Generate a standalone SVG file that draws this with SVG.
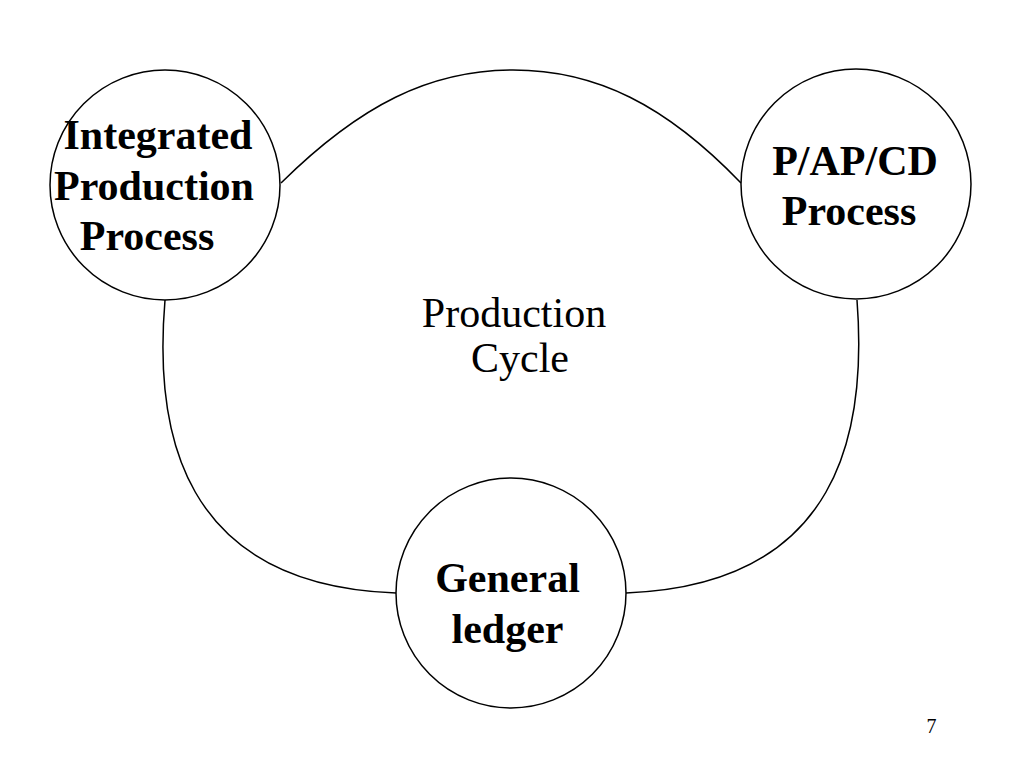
<svg xmlns="http://www.w3.org/2000/svg" width="1024" height="768" viewBox="0 0 1024 768">
<style>
.node{fill:#fff;stroke:#000;stroke-width:1.5}
.conn{fill:none;stroke:#000;stroke-width:1.5}
.lbl{font-family:"Liberation Serif","Times New Roman",serif;font-weight:bold;font-size:42px;fill:#000;text-anchor:middle}
.cyc{font-family:"Liberation Serif","Times New Roman",serif;font-size:42px;fill:#000;text-anchor:middle}
.pg{font-family:"Liberation Serif","Times New Roman",serif;font-size:20px;fill:#000;text-anchor:middle}
</style>
<rect width="1024" height="768" fill="#fff"/>
<g id="connectors">
<path class="conn" d="M281,183 C360,105 430,70 513,70 C596,70 666,105 741,183"/>
<path class="conn" d="M165,300 C154,430 180,585 396,593"/>
<path class="conn" d="M857,300 C867,430 841,585 626,593"/>
</g>
<g id="integrated">
<circle class="node" cx="165" cy="185" r="115"/>
<text class="lbl" x="158" y="149">Integrated</text>
<text class="lbl" x="154" y="200">Production</text>
<text class="lbl" x="147" y="250">Process</text>
</g>
<g id="papcd">
<circle class="node" cx="856" cy="184" r="115"/>
<text class="lbl" x="855" y="175">P/AP/CD</text>
<text class="lbl" x="849" y="225">Process</text>
</g>
<g id="ledger">
<circle class="node" cx="511" cy="593" r="115"/>
<text class="lbl" x="507.5" y="592">General</text>
<text class="lbl" x="507.5" y="643">ledger</text>
</g>
<g id="cycle">
<text class="cyc" x="514" y="327">Production</text>
<text class="cyc" x="520" y="372">Cycle</text>
</g>
<text class="pg" x="931.5" y="733">7</text>
</svg>
